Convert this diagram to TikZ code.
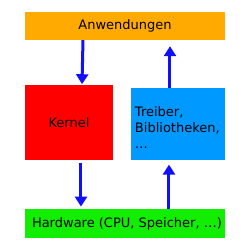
\documentclass[tikz,border=0pt]{standalone}
\usepackage{fontspec}
\setmainfont{DejaVu Sans}
\usepackage{xcolor}
\usepackage{tikz}
\usetikzlibrary{arrows.meta, positioning, calc}

\definecolor{appsorange}{HTML}{FFAA00}
\definecolor{kernelred}{HTML}{FF0000}
\definecolor{libblue}{HTML}{0099FF}
\definecolor{hwgreen}{HTML}{11EE00}
\definecolor{arrowblue}{HTML}{1010FF}

\begin{document}
\begin{tikzpicture}[node distance=45pt, font=\fontsize{13}{16}\selectfont]
        \tikzstyle{layer_style} = [rectangle, inner sep=0pt, text=black]
        \tikzstyle{arrow_down} = [line width=3pt, -{Triangle[width=12pt,length=10pt]}, draw=arrowblue]
        \tikzstyle{arrow_up} = [line width=3pt, -{Triangle[width=12pt,length=10pt]}, draw=arrowblue]

        \useasboundingbox (0,0) rectangle (250pt,-250pt);

        % Applications on top
        \node (apps) [layer_style, fill=appsorange, minimum width=200pt, minimum height=28pt] at (125pt,-26pt) {Anwendungen};

        % Kernel and libraries in the middle
        \node (kernel) [layer_style, fill=kernelred, minimum width=88pt, minimum height=75pt, below right=45pt and 0pt of apps.south west] {};
        \node at (kernel.center) {Kernel};
        \node (libs) [layer_style, fill=libblue, minimum width=94pt, minimum height=72pt, below left=48pt and 0pt of apps.south east] {};
        \node [anchor=west, align=left, inner sep=0pt] at ([xshift=4pt,yshift=-3pt]libs.west) {Treiber,\\Bibliotheken,\\\dots};

        % Hardware at the bottom
        \node (hw) [layer_style, fill=hwgreen, minimum width=200pt, minimum height=29pt, below right=48pt and 0pt of kernel.south west] {};
        \node [anchor=west, inner sep=0pt] at ([xshift=7pt,yshift=-1pt]hw.west) {Hardware (CPU, Speicher, \dots)};

        % Arrows: down through the kernel
        \draw [arrow_down] ([xshift=-42pt]apps.south) -- ([xshift=13pt,yshift=1pt]kernel.north);
        \draw [arrow_down] ([xshift=12pt,yshift=-2pt]kernel.south) -- ([xshift=-44pt,yshift=2pt]hw.north);

        % Arrows: up through the libraries
        \draw [arrow_up] ([xshift=44pt]hw.north) -- ([xshift=-9pt,yshift=-4pt]libs.south);
        \draw [arrow_up] ([xshift=-8pt]libs.north) -- ([xshift=45pt,yshift=-6pt]apps.south);
\end{tikzpicture}
\end{document}
